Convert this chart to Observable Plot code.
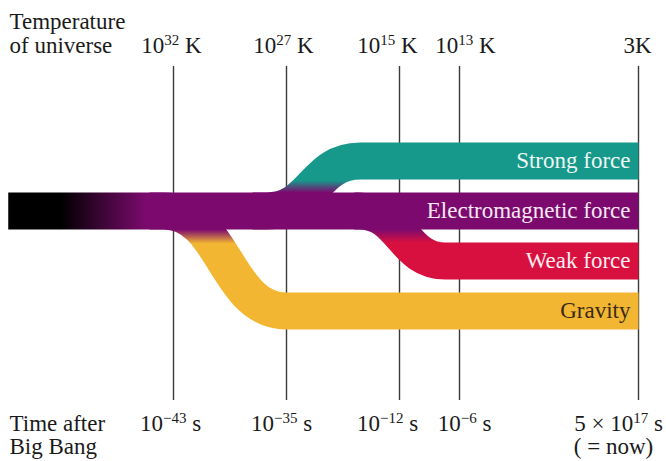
<!DOCTYPE html>
<html><head><meta charset="utf-8">
<script src="https://cdn.jsdelivr.net/npm/d3@7"></script>
<script src="https://cdn.jsdelivr.net/npm/@observablehq/plot@0.6"></script>
<style>body{margin:0;background:#fff}</style>
</head><body><div id="chart"></div>
<script>
// ---- data ----
const epochs = [-43, -35, -12, -6, 17.7];          // log10(time after Big Bang / s)
const tempLabels = ["10^32 K", "10^27 K", "10^15 K", "10^13 K", "3K"];
const timeLabels = ["10^\u221243 s", "10^\u221235 s", "10^\u221212 s", "10^\u22126 s", "5 \u00d7 10^17 s"];
const nowNote = "( = now)";
const forces = ["Strong force", "Electromagnetic force", "Weak force", "Gravity"];
const forceLanes = [1, 0, -1, -2];
const forceColors = ["#16998b", "#7c0a6e", "#d8103f", "#f3b633"];
const labelColors = ["#eef7f3", "#f8e8f4", "#fdecf0", "#3a2a12"];
const splitFrom = [-36.4, null, -20.2, -43.7];      // where each force starts to separate
const splitTo = [-20.0, null, -7.4, -35.0];         // where it is fully separated
const origin = -54.7;                                // left end of the diagram
const now = 17.7;
const topTitle = "Temperature\nof universe";
const bottomTitle = "Time after\nBig Bang";

// ---- layout / style ----
const W = 666, H = 461, band = 37, font = "'Liberation Serif', 'Times New Roman', serif";
const epochPos = [173, 286, 399, 459, 638];          // schematic (non-uniform) spacing of the epochs
const timeAxis = d3.scaleLinear().domain(epochs).range(epochPos);
const tempNudge = [-2, -3, -12, 6, -1];
const timeNudge = [-3, -5, -12, 5, -20];
const ids = ["g-strong", "g-em", "g-weak", "g-grav"];

const marks = [];
marks.push(Plot.ruleX(epochs, {x: d => d, y1: 2.89, y2: -3.79, stroke: "#3b3b3b", strokeWidth: 1.4}));
[0, 2, 3].forEach(i => {
  const path = [
    {t: splitFrom[i] - 1, lane: 0},
    {t: splitFrom[i], lane: 0},
    {t: splitTo[i], lane: forceLanes[i]},
    {t: now, lane: forceLanes[i]}
  ];
  marks.push(Plot.line(path, {x: "t", y: "lane", curve: "bump-x", stroke: `url(#${ids[i]})`,
    strokeWidth: band, strokeLinecap: "butt", strokeLinejoin: "miter"}));
});
marks.push(Plot.line([{t: origin, lane: 0}, {t: now, lane: 0}], {x: "t", y: "lane",
  stroke: "url(#g-em)", strokeWidth: band, strokeLinecap: "butt"}));
forces.forEach((f, i) => {
  marks.push(Plot.text([f], {x: () => now, y: () => forceLanes[i], text: d => d, textAnchor: "end",
    dx: -8, fill: labelColors[i], fontSize: 23, fontFamily: font}));
});
marks.push(Plot.text([topTitle], {text: d => d, frameAnchor: "top-left", textAnchor: "start", lineAnchor: "top",
  dx: 9, dy: 11.7, lineHeight: 1.04, fontSize: 23, fontFamily: font, fill: "#1a1a1a"}));
marks.push(Plot.text([bottomTitle], {text: d => d, frameAnchor: "top-left", textAnchor: "start", lineAnchor: "top",
  dx: 9, dy: 413.7, lineHeight: 1.0, fontSize: 23, fontFamily: font, fill: "#1a1a1a"}));
epochs.forEach((t, i) => {
  marks.push(Plot.text([tempLabels[i]], {x: () => t, text: d => d, frameAnchor: "top", lineAnchor: "top",
    dx: tempNudge[i], dy: 35.7, fontSize: 23, fontFamily: font, fill: "#1a1a1a"}));
  marks.push(Plot.text([timeLabels[i]], {x: () => t, text: d => d, frameAnchor: "top", lineAnchor: "top",
    dx: timeNudge[i], dy: 413.7, fontSize: 23, fontFamily: font, fill: "#1a1a1a"}));
});
marks.push(Plot.text([nowNote], {x: () => now, text: d => d, frameAnchor: "top", lineAnchor: "top",
  dx: -25, dy: 436.7, fontSize: 23, fontFamily: font, fill: "#1a1a1a"}));

const plot = Plot.plot({
  width: W, height: H, margin: 0,
  x: {type: "linear", transform: t => timeAxis(t), domain: [0, W], range: [0, W], axis: null},
  y: {domain: [-5.01, 4.21], axis: null},
  style: {background: "#fff", fontFamily: font},
  marks
});

const ns = "http://www.w3.org/2000/svg";
const sy = plot.scale("y");
const emTop = sy.apply(0) - band / 2, emBot = sy.apply(0) + band / 2;
const x0 = timeAxis(origin);
const defs = document.createElementNS(ns, "defs");
function grad(id, x1, y1, x2, y2, c1, c2) {
  const g = document.createElementNS(ns, "linearGradient");
  g.setAttribute("id", id);
  g.setAttribute("gradientUnits", "userSpaceOnUse");
  g.setAttribute("x1", x1); g.setAttribute("y1", y1); g.setAttribute("x2", x2); g.setAttribute("y2", y2);
  [[0, c1], [1, c2]].forEach(([o, c]) => {
    const s = document.createElementNS(ns, "stop");
    s.setAttribute("offset", o); s.setAttribute("stop-color", c); g.appendChild(s);
  });
  defs.appendChild(g);
}
grad("g-em", x0 + 52, 0, x0 + 138, 0, "#000000", forceColors[1]);
grad("g-strong", 0, emTop, 0, emTop - 12, forceColors[1], forceColors[0]);
grad("g-weak", 0, emBot, 0, emBot + 13, forceColors[1], forceColors[2]);
grad("g-grav", 0, emBot, 0, emBot + 14, forceColors[1], forceColors[3]);
plot.insertBefore(defs, plot.firstChild);

plot.querySelectorAll("text").forEach(el => {
  const s = el.textContent;
  if (!s.includes("^")) return;
  const [base, rest] = s.split("^");
  const sp = rest.indexOf(" ");
  const sup = rest.slice(0, sp), after = rest.slice(sp);
  el.textContent = "";
  const t1 = document.createElementNS(ns, "tspan"); t1.textContent = base;
  const t2 = document.createElementNS(ns, "tspan"); t2.textContent = sup;
  t2.setAttribute("font-size", "15px"); t2.setAttribute("dy", "-8");
  const t3 = document.createElementNS(ns, "tspan"); t3.textContent = after; t3.setAttribute("dy", "8");
  el.append(t1, t2, t3);
});
document.getElementById("chart").appendChild(plot);
</script></body></html>
